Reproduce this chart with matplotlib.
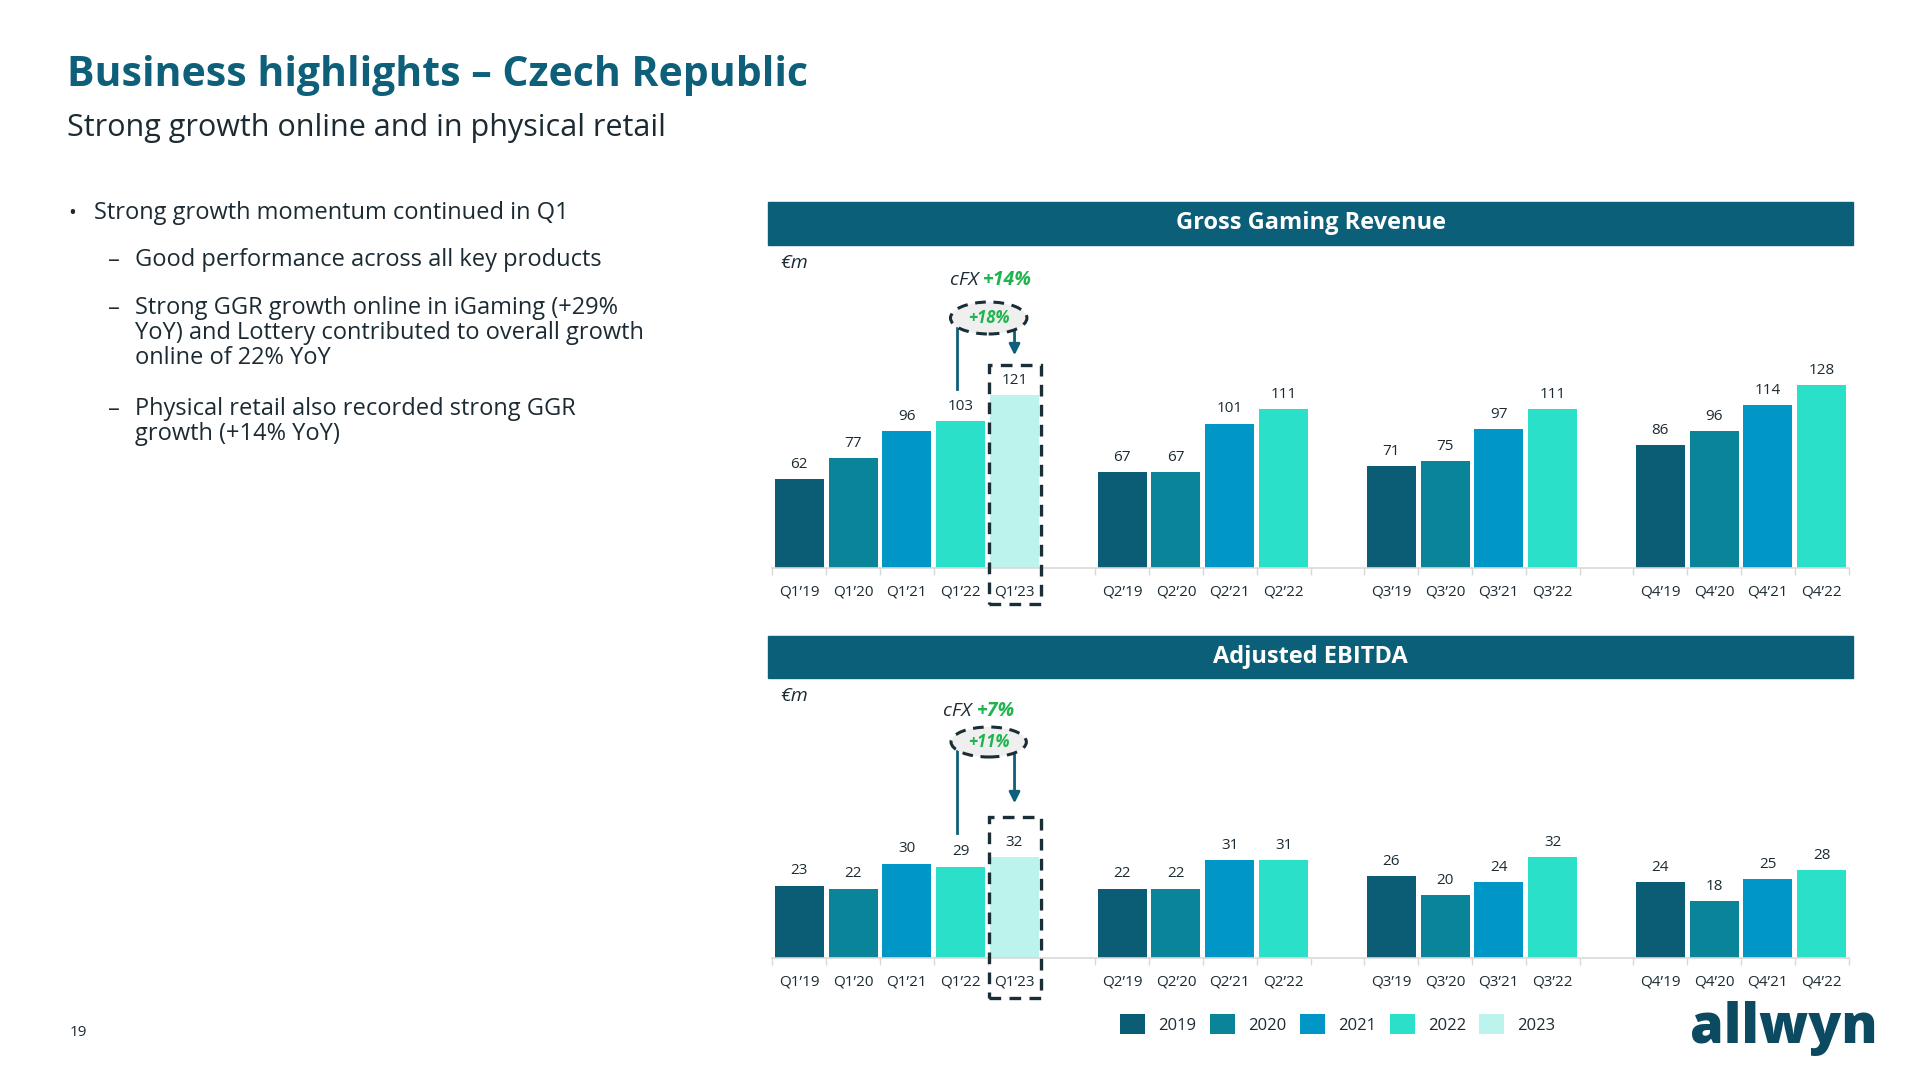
import numpy as np
import matplotlib.pyplot as plt
from matplotlib.patches import Rectangle, Ellipse, Patch

plt.rcParams['font.family'] = ['Open Sans', 'DejaVu Sans']

# data
labels = ["Q1’19", "Q1’20", "Q1’21", "Q1’22", "Q1’23",
          "Q2’19", "Q2’20", "Q2’21", "Q2’22",
          "Q3’19", "Q3’20", "Q3’21", "Q3’22",
          "Q4’19", "Q4’20", "Q4’21", "Q4’22"]
years = [2019, 2020, 2021, 2022, 2023,
         2019, 2020, 2021, 2022,
         2019, 2020, 2021, 2022,
         2019, 2020, 2021, 2022]
ggr = [62, 77, 96, 103, 121,
       67, 67, 101, 111,
       71, 75, 97, 111,
       86, 96, 114, 128]
ebitda = [23, 22, 30, 29, 32,
          22, 22, 31, 31,
          26, 20, 24, 32,
          24, 18, 25, 28]
legend_years = [2019, 2020, 2021, 2022, 2023]

colors = {2019: '#0b5c75', 2020: '#0a8499', 2021: '#0097c7',
          2022: '#2ae0c9', 2023: '#bdf3ed'}
DARK = '#0d5f7a'
TXT = '#1c2b33'
GREEN = '#1fb44f'

# slot positions: Q1 group has 5 bars, the others 4, one empty slot between groups
pos = np.array(list(range(0, 5)) + list(range(6, 10)) + list(range(11, 15)) + list(range(16, 20)))

fig = plt.figure(figsize=(19.2, 10.8), dpi=100)


def fx(px):
    return px / 1920


def fy(py):
    return 1 - py / 1080


# title & subtitle
fig.text(fx(67), fy(76), "Business highlights – Czech Republic", fontsize=29.5,
         fontweight='bold', color=DARK, va='center')
fig.text(fx(67), fy(128), "Strong growth online and in physical retail", fontsize=22,
         color=TXT, va='center')

# left bullets
fig.text(fx(68), fy(213), "•", fontsize=15, color=TXT, va='center')
fig.text(fx(94), fy(213), "Strong growth momentum continued in Q1", fontsize=17,
         color=TXT, va='center')
subs = [(261, "Good performance across all key products"),
        (309, "Strong GGR growth online in iGaming (+29%\nYoY) and Lottery contributed to overall growth\nonline of 22% YoY"),
        (410, "Physical retail also recorded strong GGR\ngrowth (+14% YoY)")]
for y, t in subs:
    fig.text(fx(108), fy(y), "–", fontsize=17, color=TXT, va='center')
    fig.text(fx(135), fy(y) + 0.0125, t, fontsize=17, color=TXT, va='top',
             linespacing=1.08)

fig.text(fx(70), fy(1032), "19", fontsize=11, color=TXT, va='center')


def header(y0, y1, title):
    fig.patches.append(Rectangle((fx(768), fy(y1)), fx(1853) - fx(768), fy(y0) - fy(y1),
                                 transform=fig.transFigure, color='#0c5f78', zorder=0))
    fig.text((fx(768) + fx(1853)) / 2, (fy(y0) + fy(y1)) / 2, title, fontsize=17,
             fontweight='bold', color='white', ha='center', va='center')


def bar_panel(ax, vals, ymax, fmt_off):
    ax.bar(pos, vals, width=0.91, color=[colors[y] for y in years], zorder=2)
    for x, v in zip(pos, vals):
        ax.text(x, v + fmt_off, str(v), ha='center', va='bottom', fontsize=11, color=TXT)
    ax.set_xlim(-0.6, 19.6)
    ax.set_ylim(0, ymax)
    ax.set_xticks(pos)
    ax.set_xticklabels(labels, fontsize=11, color=TXT)
    ax.set_xticks(np.arange(-0.5, 20, 1), minor=True)
    ax.tick_params(axis='x', which='major', length=0, pad=12)
    ax.tick_params(axis='x', which='minor', length=5, color='#d9d9d9', width=1)
    ax.set_yticks([])
    for s in ['top', 'right', 'left']:
        ax.spines[s].set_visible(False)
    ax.spines['bottom'].set_color('#d9d9d9')
    ax.spines['bottom'].set_linewidth(1.2)
    ax.spines['bottom'].set_bounds(-0.5, 19.5)


def growth_note(ax, cfx, yoy, x_text, y_text, y_ell, ell_w, ell_h, y_line_end, y_arrow_end,
                box_top, box_bot):
    # cFX text
    ax.text(x_text, y_text, "cFX ", ha='right', va='center', fontsize=14, style='italic',
            color=TXT)
    ax.text(x_text, y_text, cfx, ha='left', va='center', fontsize=14, style='italic',
            fontweight='bold', color=GREEN)
    ax.add_patch(Ellipse((3.52, y_ell), ell_w, ell_h, facecolor='#efefef', edgecolor='#1b2e36',
                         linestyle=(0, (3.5, 2.5)), linewidth=2.2, zorder=4, clip_on=False))
    ax.text(3.52, y_ell, yoy, ha='center', va='center', fontsize=12, style='italic',
            fontweight='bold', color=GREEN, zorder=5)
    ax.plot([2.93, 2.93], [y_ell - ell_h * 0.3, y_line_end], color='#0d5f7a', lw=2,
            zorder=3, clip_on=False)
    ax.annotate("", xy=(4.0, y_arrow_end), xytext=(4.0, y_ell - ell_h * 0.3),
                arrowprops=dict(arrowstyle='-|>', color='#0d5f7a', lw=2, mutation_scale=16),
                zorder=3)
    ax.add_patch(Rectangle((3.53, box_bot), 0.96, box_top - box_bot, fill=False,
                           edgecolor='#1b2e36', linestyle=(0, (3.5, 2.5)), linewidth=2.4,
                           clip_on=False, zorder=5))


# --- Gross Gaming Revenue panel ---
header(202, 245, "Gross Gaming Revenue")
ax1 = fig.add_axes([fx(767), fy(568), fx(1854) - fx(767), fy(250) - fy(568)])
bar_panel(ax1, ggr, 318 / 1.43, 5)
ax1.text(0.012, 1 - 13 / 318, "€m", transform=ax1.transAxes, fontsize=14, style='italic',
         color=TXT, va='center')
px1 = 1.43
growth_note(ax1, "+14%", "+18%", 3.42,
            (568 - 280) / px1, (568 - 318) / px1, 1.42, 32 / px1,
            (568 - 389) / px1, (568 - 358) / px1,
            (568 - 365) / px1, -(604 - 568) / px1)

# --- Adjusted EBITDA panel ---
header(636, 678, "Adjusted EBITDA")
px2 = 3.15
ax2 = fig.add_axes([fx(767), fy(958), fx(1854) - fx(767), fy(685) - fy(958)])
bar_panel(ax2, ebitda, 273 / px2, 2.3)
ax2.text(0.012, 1 - 11 / 273, "€m", transform=ax2.transAxes, fontsize=14, style='italic',
         color=TXT, va='center')
growth_note(ax2, "+7%", "+11%", 3.3,
            (958 - 711) / px2, (958 - 742) / px2, 1.4, 30 / px2,
            (958 - 833) / px2, (958 - 806) / px2,
            (958 - 817) / px2, -(998 - 958) / px2)

# legend
handles = [Patch(facecolor=colors[y], edgecolor='none') for y in legend_years]
fig.legend(handles, [str(y) for y in legend_years], loc='center',
           bbox_to_anchor=(fx(1338), fy(1024)), ncol=5, frameon=False, fontsize=12,
           handlelength=1.5, handleheight=1.5, columnspacing=0.8, handletextpad=0.8,
           labelcolor=TXT)

# logo
fig.text(fx(1878), fy(1028), "allwyn", fontsize=39, fontweight='heavy', color='#0b4a60',
         ha='right', va='center')

fig.savefig('out.png', dpi=100)
